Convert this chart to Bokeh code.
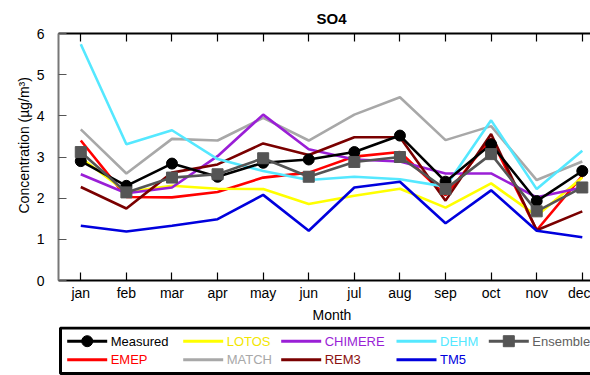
from bokeh.plotting import figure
from bokeh.models import Range1d, FixedTicker, LinearAxis, Title
from bokeh.core.properties import value
from bokeh.embed import file_html
from bokeh.resources import INLINE

months = ["jan", "feb", "mar", "apr", "may", "jun", "jul", "aug", "sep", "oct", "nov", "dec"]
measured = [2.90, 2.30, 2.84, 2.52, 2.86, 2.94, 3.12, 3.52, 2.40, 3.31, 1.93, 2.66]
emep = [3.40, 2.03, 2.02, 2.15, 2.50, 2.62, 3.01, 3.12, 2.07, 3.45, 1.22, 2.54]
lotos = [2.98, 2.15, 2.30, 2.23, 2.22, 1.86, 2.06, 2.23, 1.77, 2.36, 1.57, 2.50]
match = [3.67, 2.60, 3.44, 3.40, 3.95, 3.40, 4.03, 4.45, 3.41, 3.75, 2.44, 2.89]
chimere = [2.58, 2.12, 2.26, 3.02, 4.03, 3.19, 2.94, 2.89, 2.60, 2.60, 2.02, 2.26]
rem3 = [2.27, 1.75, 2.62, 2.82, 3.33, 3.05, 3.48, 3.48, 1.94, 3.56, 1.22, 1.68]
dehm = [5.74, 3.31, 3.65, 2.95, 2.66, 2.44, 2.52, 2.46, 2.28, 3.89, 2.22, 3.15]
tm5 = [1.33, 1.19, 1.33, 1.49, 2.08, 1.21, 2.26, 2.40, 1.39, 2.19, 1.21, 1.05]
ensemble = [3.12, 2.14, 2.50, 2.58, 2.97, 2.52, 2.88, 3.00, 2.22, 3.07, 1.68, 2.26]
y_ticks = [0, 1, 2, 3, 4, 5, 6]

FONT = "Liberation Sans"
x = list(range(1, len(months) + 1))

series = [
    ("EMEP", emep, "#ff0000", "#ff0000"),
    ("LOTOS", lotos, "#ffff00", "#f2e600"),
    ("MATCH", match, "#a8a8a8", "#a8a8a8"),
    ("CHIMERE", chimere, "#9a1fd6", "#9a1fd6"),
    ("REM3", rem3, "#7a0000", "#8b1010"),
    ("DEHM", dehm, "#55e8ff", "#55e8ff"),
    ("TM5", tm5, "#0000dd", "#0000dd"),
]

W = 590
p = figure(width=W, height=326, output_backend="svg", toolbar_location=None,
           x_range=Range1d(0.511, 12.18), y_range=Range1d(0, 6),
           min_border_left=58, min_border_right=0, min_border_top=32, min_border_bottom=46)
p.outline_line_color = None
p.xgrid.visible = False
p.ygrid.visible = False
p.background_fill_color = "white"

for name, vals, col, _ in series:
    p.line(x, vals, line_color=col, line_width=2.6)
p.line(x, measured, line_color="black", line_width=2.6)
p.scatter(x, measured, marker="circle", size=11, fill_color="black", line_color="black")
p.line(x, ensemble, line_color="#555555", line_width=2.6)
p.scatter(x, ensemble, marker="square", size=11, fill_color="#555555", line_color="#555555")

xa = p.xaxis[0]
xa.ticker = FixedTicker(ticks=x)
xa.major_label_overrides = {i: m for i, m in zip(x, months)}
xa.major_tick_in = 8
xa.major_tick_out = 0
xa.minor_tick_line_color = None
xa.axis_line_width = 2
xa.major_tick_line_width = 1.2
xa.major_label_text_font = FONT
xa.major_label_text_font_size = "14px"
xa.major_label_text_color = "black"
xa.major_label_standoff = 4

ya = p.yaxis[0]
ya.ticker = FixedTicker(ticks=y_ticks)
ya.major_tick_in = 8
ya.major_tick_out = 0
ya.minor_tick_line_color = None
ya.axis_line_width = 2
ya.axis_line_color = "#777777"
ya.major_tick_line_color = "#555555"
ya.major_tick_line_width = 1.2
ya.major_label_text_font = FONT
ya.major_label_text_font_size = "14px"
ya.major_label_text_color = "black"
ya.major_label_standoff = 14

top = LinearAxis(ticker=FixedTicker(ticks=x))
top.major_label_overrides = {i: "" for i in x}
top.major_label_standoff = 0
top.major_tick_in = 8
top.major_tick_out = 0
top.minor_tick_line_color = None
top.axis_line_width = 2
top.major_tick_line_width = 1.2
p.add_layout(top, "above")

p.add_layout(Title(text="SO4", align="left", offset=258, text_font=FONT, text_color="black",
                   text_font_size="15px", text_font_style="bold", standoff=14), "above")
p.add_layout(Title(text="Month", align="left", offset=254, text_font=FONT, text_color="black",
                   text_font_size="14px", text_font_style="normal", standoff=2), "below")
p.add_layout(Title(text="Concentration (µg/m³)", align="left", offset=67, text_font=FONT,
                   text_color="black", text_font_size="14px", text_font_style="normal",
                   standoff=4), "left")

# legend panel
H = 49
lg = figure(width=W, height=H, output_backend="svg", toolbar_location=None,
            x_range=Range1d(0, W), y_range=Range1d(0, H),
            x_axis_location=None, y_axis_location=None,
            min_border_left=0, min_border_right=0, min_border_top=0, min_border_bottom=0)
lg.outline_line_color = None
lg.xgrid.visible = False
lg.ygrid.visible = False
lg.quad(left=[60], right=[W + 20], top=[47.5], bottom=[2], fill_color=None,
        line_color="black", line_width=3)

col_x = [66.7, 182.7, 280.7, 396, 488.3]
row_y = [34.3, 15.7]
entries = [("Measured", "black", "black", "circle")] + \
          [(n, c, tc, None) for n, _, c, tc in series] + \
          [("Ensemble", "#555555", "#606060", "square")]
for i, (name, col, tcol, mk) in enumerate(entries):
    cx = col_x[i // 2]
    cy = row_y[i % 2]
    lg.line([cx, cx + 40], [cy, cy], line_color=col, line_width=3)
    if mk:
        lg.scatter([cx + 20], [cy], marker=mk, size=11, fill_color=col, line_color=col)
    lg.text([cx + 43.5], [cy], text=[name], text_color=tcol, text_font=value(FONT),
            text_font_size="13px", text_baseline="middle", text_align="left")

open("out.html", "w").write(file_html([p, lg], INLINE))
